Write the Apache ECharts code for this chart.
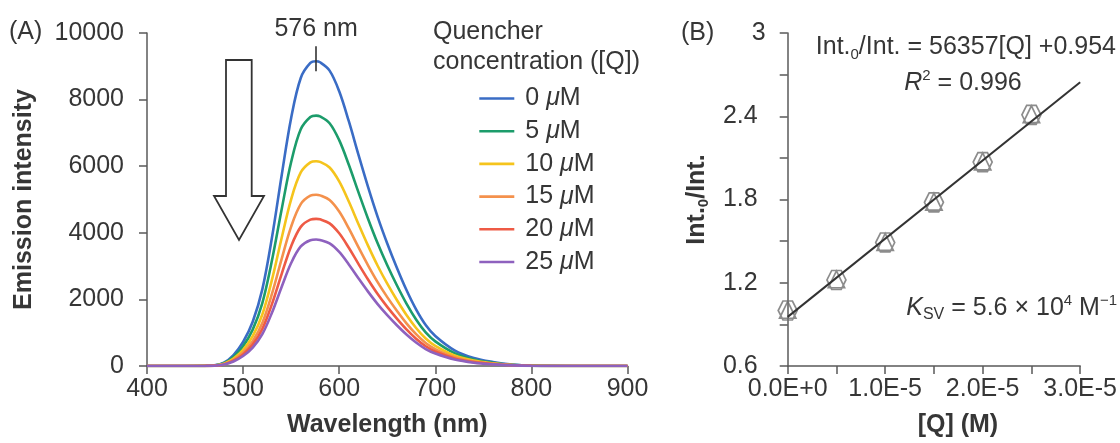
<!DOCTYPE html>
<html>
<head>
<meta charset="utf-8">
<title>Emission quenching and Stern–Volmer plot</title>
<script src="https://cdn.jsdelivr.net/npm/echarts@6/dist/echarts.min.js"></script>
<style>
  html, body { margin: 0; padding: 0; background: #ffffff; }
  #chart { width: 1120px; height: 443px; }
</style>
</head>
<body>
<div id="chart"></div>
<script>
// ---- Panel A: emission spectra at increasing quencher concentration ----
const wavelengths = [400, 440, 460, 470, 480, 490, 500, 510, 520, 530, 540, 550, 560, 570, 576, 580,
  590, 600, 610, 620, 630, 640, 650, 660, 670, 680, 690, 700, 720, 740, 760, 780, 800, 850, 900];

const concLabels = ['0 μM', '5 μM', '10 μM', '15 μM', '20 μM', '25 μM'];

const emission0uM = [0, 0, 5, 20, 100, 330, 720, 1330, 2300, 3850, 5700, 7450, 8650, 9100, 9150, 9120,
  8870, 8250, 7350, 6350, 5380, 4480, 3680, 2950, 2280, 1700, 1230, 900, 470, 240, 120, 45, 12, 0, 0];
const emission5uM = [0, 0, 4, 16, 82, 271, 592, 1093, 1891, 3165, 4685, 6124, 7110, 7480, 7520, 7497,
  7291, 6782, 6042, 5220, 4422, 3683, 3025, 2425, 1874, 1397, 1011, 740, 386, 197, 99, 37, 10, 0, 0];
const emission10uM = [0, 0, 3, 13, 67, 222, 484, 894, 1546, 2587, 3830, 5006, 5813, 6115, 6149, 6129,
  5961, 5544, 4939, 4267, 3615, 3011, 2473, 1982, 1532, 1142, 827, 605, 316, 161, 81, 30, 8, 0, 0];
const emission15uM = [0, 0, 3, 11, 56, 185, 405, 747, 1293, 2164, 3203, 4187, 4861, 5114, 5142, 5125,
  4985, 4637, 4131, 3569, 3024, 2518, 2068, 1658, 1281, 955, 691, 506, 264, 135, 67, 25, 7, 0, 0];
const emission20uM = [0, 0, 2, 10, 48, 159, 348, 642, 1111, 1860, 2753, 3598, 4178, 4395, 4419, 4405,
  4284, 3985, 3550, 3067, 2599, 2164, 1777, 1425, 1101, 821, 594, 435, 227, 116, 58, 22, 6, 0, 0];
const emission25uM = [0, 0, 2, 8, 42, 137, 299, 552, 955, 1598, 2366, 3092, 3590, 3777, 3797, 3785,
  3681, 3424, 3050, 2635, 2233, 1859, 1527, 1224, 946, 706, 510, 374, 195, 100, 50, 19, 5, 0, 0];

const peakWavelength = 576;
const peakMarkerSpan = [8850, 9600];

// ---- Panel B: Stern–Volmer data and linear fit ----
const quencherM = [0, 5e-6, 1e-5, 1.5e-5, 2e-5, 2.5e-5];
const intensityRatio = [1.00, 1.22, 1.49, 1.78, 2.07, 2.41];
const fitSlope = 56357;
const fitIntercept = 0.954;
const fitR2 = 0.996;
const ksvMantissa = '5.6';
const ksvExponent = '4';
const quencherAxisMax = 3e-5;

const spectra = [emission0uM, emission5uM, emission10uM, emission15uM, emission20uM, emission25uM];
const lineColors = ['#3a6cc5', '#1c9c6b', '#f5c41c', '#f4914c', '#ee5a45', '#8e61be'];

const FONT = "'Liberation Sans', Arial, Helvetica, sans-serif";
const TXT = '#363636';
const AXC = '#5a5a5a';
const FS = 25;

const chart = echarts.init(document.getElementById('chart'), null, { renderer: 'canvas' });

const spectrumSeries = spectra.map((vals, i) => ({
  name: concLabels[i],
  type: 'line',
  xAxisIndex: 0,
  yAxisIndex: 0,
  data: wavelengths.map((w, j) => [w, vals[j]]),
  smooth: 0.35,
  symbol: 'none',
  lineStyle: { width: 2.6, color: lineColors[i] },
  itemStyle: { color: lineColors[i] },
  z: 2 + i
}));

// short vertical marker through the top of the 0 μM spectrum, with its wavelength label
spectrumSeries[0].markLine = {
  silent: true,
  symbol: 'none',
  animation: false,
  lineStyle: { color: '#333333', width: 1.6, type: 'solid' },
  label: {
    show: true,
    position: 'end',
    distance: 5,
    formatter: peakWavelength + ' nm',
    fontSize: FS,
    color: TXT,
    fontFamily: FONT
  },
  data: [[{ coord: [peakWavelength, peakMarkerSpan[0]] }, { coord: [peakWavelength, peakMarkerSpan[1]] }]]
};

const hexTriangle = 'path://M25,6L75,6L100,50L75,94L25,94L0,50ZM50,8L93,86L7,86Z';

const axisCommon = {
  splitLine: { show: false },
  axisLine: { show: true, onZero: false, lineStyle: { color: AXC, width: 1.5 } },
  axisTick: { show: true, length: 8, lineStyle: { color: AXC, width: 1.5 } }
};
const labelStyle = { fontSize: FS, color: TXT, fontFamily: FONT };
const titleStyle = { fontSize: FS, color: TXT, fontFamily: FONT, fontWeight: 'bold' };

const option = {
  animation: false,
  backgroundColor: '#ffffff',
  grid: [
    { left: 147, top: 33, width: 480.5, height: 334 },
    { left: 787.7, top: 33, width: 294, height: 334 }
  ],
  xAxis: [
    Object.assign({}, axisCommon, {
      gridIndex: 0, type: 'value', min: 400, max: 900, interval: 100,
      axisLabel: Object.assign({ margin: 11, formatter: v => String(v) }, labelStyle),
      name: 'Wavelength (nm)', nameLocation: 'middle', nameGap: 47,
      nameTextStyle: titleStyle
    }),
    Object.assign({}, axisCommon, {
      gridIndex: 1, type: 'value', min: 0, max: quencherAxisMax, interval: 1e-5,
      minorTick: { show: true, splitNumber: 2, length: 8, lineStyle: { color: AXC, width: 1.5 } },
      minorSplitLine: { show: false },
      axisLabel: Object.assign({
        margin: 11,
        formatter: v => Number(v).toExponential(1).toUpperCase()
      }, labelStyle),
      name: '[Q] (M)', nameLocation: 'middle', nameGap: 47,
      nameTextStyle: Object.assign({ padding: [0, 0, 0, 48] }, titleStyle)
    })
  ],
  yAxis: [
    Object.assign({}, axisCommon, {
      gridIndex: 0, type: 'value', min: 0, max: 10000, interval: 2000,
      axisLabel: Object.assign({ margin: 23, formatter: v => String(v) }, labelStyle),
      name: 'Emission intensity', nameLocation: 'middle', nameGap: 110, nameRotate: 90,
      nameTextStyle: titleStyle
    }),
    Object.assign({}, axisCommon, {
      gridIndex: 1, type: 'value', min: 0.6, max: 3, interval: 0.6,
      minorTick: { show: true, splitNumber: 2, length: 8, lineStyle: { color: AXC, width: 1.5 } },
      minorSplitLine: { show: false },
      axisLabel: Object.assign({
        margin: 22,
        formatter: v => {
          const s = String(+Number(v).toFixed(1));
          return s === '3' ? '{t|' + s + '}' : '{n|' + s + '}';
        },
        rich: {
          t: { fontSize: FS, color: TXT, fontFamily: FONT },
          n: { fontSize: FS, color: TXT, fontFamily: FONT, padding: [0, 8, 0, 0] }
        }
      }, labelStyle),
      name: '{b|Int.}{s|0}{b|/Int.}', nameLocation: 'middle', nameGap: 76, nameRotate: 90,
      nameTextStyle: {
        rich: {
          b: { fontSize: FS, fontWeight: 'bold', color: TXT, fontFamily: FONT, lineHeight: 30 },
          s: { fontSize: 15, fontWeight: 'bold', color: TXT, fontFamily: FONT, verticalAlign: 'bottom', lineHeight: 15 }
        }
      }
    })
  ],
  legend: {
    orient: 'vertical',
    left: 478,
    top: 86,
    padding: 0,
    itemWidth: 35,
    itemHeight: 14,
    itemGap: 7.7,
    selectedMode: false,
    data: concLabels,
    itemStyle: { opacity: 0, borderWidth: 0 },
    lineStyle: { width: 2.6 },
    formatter: name => {
      const num = name.split(' ')[0];
      return '{g| }{n|' + num + ' }{mu|μ}{n|M}';
    },
    textStyle: {
      fontSize: FS, color: TXT, fontFamily: FONT, lineHeight: 25,
      rich: {
        g: { width: 6, fontSize: FS },
        n: { fontSize: FS, color: TXT, fontFamily: FONT },
        mu: { fontSize: FS, color: TXT, fontFamily: FONT, fontStyle: 'italic' }
      }
    }
  },
  graphic: [
    { type: 'text', x: 9, y: 32, style: { text: '(A)', fill: TXT, font: FS + 'px ' + FONT, verticalAlign: 'middle', align: 'left' } },
    { type: 'text', x: 681, y: 33, style: { text: '(B)', fill: TXT, font: FS + 'px ' + FONT, verticalAlign: 'middle', align: 'left' } },
    { type: 'text', x: 433, y: 17, style: { text: 'Quencher\nconcentration ([Q])', fill: TXT, font: FS + 'px ' + FONT, lineHeight: 30, verticalAlign: 'top', align: 'left' } },
    {
      type: 'polygon',
      shape: { points: [[226, 60], [251.7, 60], [251.7, 196], [264, 196], [239, 240], [214, 196], [226, 196]] },
      style: { fill: '#ffffff', stroke: '#333333', lineWidth: 1.8 },
      z: 1
    },
    {
      type: 'text', x: 1116, y: 47,
      style: {
        text: '{m|Int.}{s|0}{m|/Int. = ' + fitSlope + '[Q] +' + fitIntercept + '}',
        align: 'right', verticalAlign: 'middle',
        rich: {
          m: { fontSize: FS, fill: TXT, fontFamily: FONT, lineHeight: 30 },
          s: { fontSize: 15, fill: TXT, fontFamily: FONT, verticalAlign: 'bottom', lineHeight: 15 }
        }
      }
    },
    {
      type: 'text', x: 963, y: 83,
      style: {
        text: '{i|R}{p|2}{m| = ' + fitR2 + '}',
        align: 'center', verticalAlign: 'middle',
        rich: {
          m: { fontSize: FS, fill: TXT, fontFamily: FONT, lineHeight: 30 },
          i: { fontSize: FS, fill: TXT, fontFamily: FONT, fontStyle: 'italic', lineHeight: 30 },
          p: { fontSize: 15, fill: TXT, fontFamily: FONT, verticalAlign: 'top', lineHeight: 15 }
        }
      }
    },
    {
      type: 'text', x: 1117, y: 308,
      style: {
        text: '{i|K}{s|SV}{m| = ' + ksvMantissa + ' × 10}{p|' + ksvExponent + '}{m| M}{p|−1}',
        align: 'right', verticalAlign: 'middle',
        rich: {
          m: { fontSize: FS, fill: TXT, fontFamily: FONT, lineHeight: 30 },
          i: { fontSize: FS, fill: TXT, fontFamily: FONT, fontStyle: 'italic', lineHeight: 30 },
          s: { fontSize: 16, fill: TXT, fontFamily: FONT, verticalAlign: 'bottom', lineHeight: 16 },
          p: { fontSize: 15, fill: TXT, fontFamily: FONT, verticalAlign: 'top', lineHeight: 15 }
        }
      }
    }
  ],
  series: spectrumSeries.concat([
    {
      name: 'Int0/Int',
      type: 'scatter',
      xAxisIndex: 1,
      yAxisIndex: 1,
      data: quencherM.map((q, i) => [q, intensityRatio[i]]),
      symbol: hexTriangle,
      symbolSize: 19,
      itemStyle: { color: 'rgba(0,0,0,0)', borderColor: '#6f6f6f', borderWidth: 1.7 },
      z: 2
    },
    {
      name: 'fit',
      type: 'line',
      xAxisIndex: 1,
      yAxisIndex: 1,
      data: [[0, fitIntercept], [quencherAxisMax, fitIntercept + fitSlope * quencherAxisMax]],
      symbol: 'none',
      lineStyle: { color: '#333333', width: 2 },
      z: 3
    }
  ])
};

chart.setOption(option);
</script>
</body>
</html>
